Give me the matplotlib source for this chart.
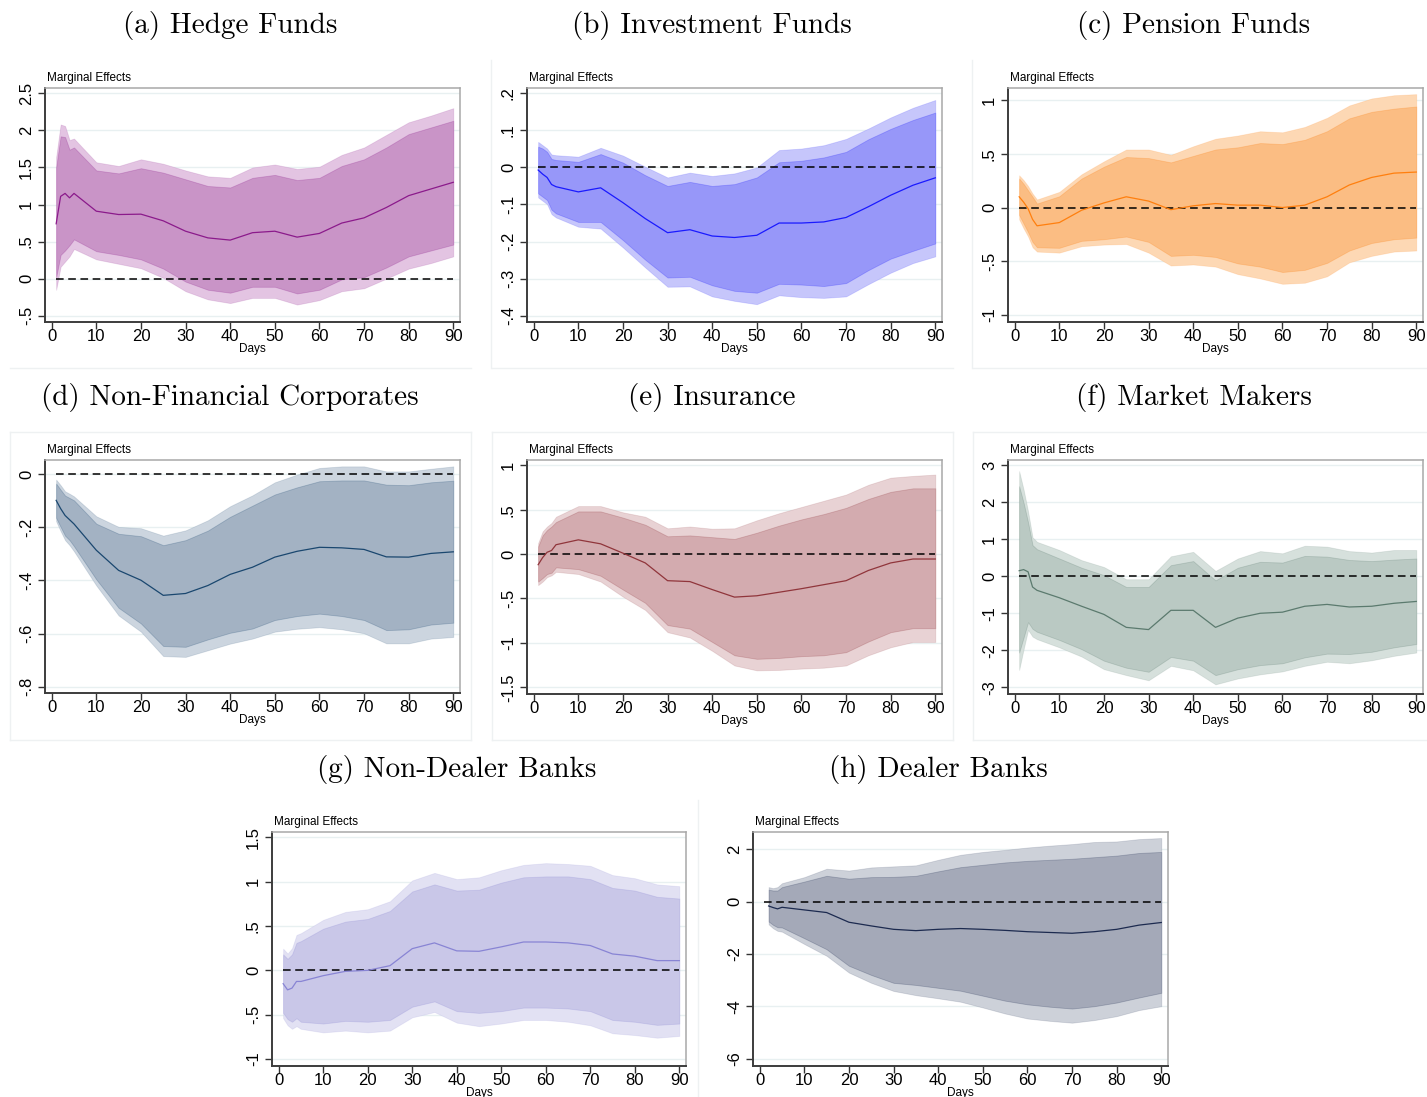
import matplotlib
matplotlib.use("Agg")
import matplotlib.pyplot as plt
from matplotlib.colors import to_rgba
import numpy as np

W, H = 1427, 1097
tick_font = "Liberation Sans"
title_font = "cmr10"

days = [1, 2, 3, 4, 5, 10, 15, 20, 25, 30, 35, 40, 45, 50, 55, 60, 65, 70, 75, 80, 85, 90]
days_h = [2, 3, 4, 5, 10, 15, 20, 25, 30, 35, 40, 45, 50, 55, 60, 65, 70, 75, 80, 85, 90]

# (a) Hedge Funds
mid_a = [0.74, 1.11, 1.15, 1.09, 1.15, 0.91, 0.865, 0.87, 0.78, 0.64, 0.55, 0.52, 0.62, 0.64, 0.56, 0.61, 0.75, 0.82, 0.96, 1.12, 1.21, 1.30]
hi90_a = [1.50, 1.92, 1.91, 1.74, 1.77, 1.46, 1.42, 1.49, 1.43, 1.34, 1.25, 1.23, 1.36, 1.40, 1.33, 1.36, 1.52, 1.61, 1.77, 1.95, 2.04, 2.13]
hi95_a = [1.64, 2.08, 2.06, 1.87, 1.89, 1.57, 1.52, 1.61, 1.55, 1.46, 1.38, 1.36, 1.50, 1.54, 1.48, 1.51, 1.67, 1.77, 1.94, 2.11, 2.20, 2.30]
lo90_a = [0.02, 0.32, 0.38, 0.45, 0.53, 0.37, 0.32, 0.26, 0.135, -0.04, -0.15, -0.19, -0.11, -0.11, -0.20, -0.15, -0.01, 0.02, 0.15, 0.30, 0.38, 0.46]
lo95_a = [-0.15, 0.16, 0.23, 0.30, 0.40, 0.26, 0.20, 0.14, 0.01, -0.17, -0.28, -0.33, -0.26, -0.26, -0.35, -0.29, -0.17, -0.13, 0.0, 0.135, 0.21, 0.30]

# (b) Investment Funds
mid_b = [-0.007, -0.018, -0.027, -0.046, -0.052, -0.066, -0.055, -0.095, -0.138, -0.176, -0.168, -0.185, -0.189, -0.183, -0.150, -0.150, -0.147, -0.135, -0.106, -0.075, -0.048, -0.028]
hi90_b = [0.056, 0.051, 0.042, 0.023, 0.020, 0.015, 0.036, 0.013, -0.021, -0.050, -0.039, -0.050, -0.045, -0.027, 0.014, 0.018, 0.027, 0.042, 0.076, 0.104, 0.128, 0.148]
hi95_b = [0.069, 0.060, 0.051, 0.035, 0.033, 0.029, 0.053, 0.032, 0.002, -0.027, -0.014, -0.023, -0.016, 0.0, 0.047, 0.051, 0.060, 0.077, 0.105, 0.135, 0.161, 0.182]
lo90_b = [-0.070, -0.079, -0.088, -0.114, -0.124, -0.147, -0.147, -0.196, -0.249, -0.297, -0.295, -0.318, -0.333, -0.338, -0.314, -0.316, -0.320, -0.312, -0.277, -0.246, -0.225, -0.205]
lo95_b = [-0.081, -0.090, -0.099, -0.126, -0.135, -0.160, -0.165, -0.216, -0.270, -0.322, -0.321, -0.348, -0.360, -0.369, -0.345, -0.350, -0.352, -0.348, -0.315, -0.284, -0.258, -0.240]

# (c) Pension Funds
mid_c = [0.10, 0.05, -0.01, -0.11, -0.17, -0.14, -0.025, 0.043, 0.10, 0.06, -0.02, 0.016, 0.037, 0.022, 0.022, 0.0, 0.022, 0.10, 0.21, 0.28, 0.32, 0.33]
hi90_c = [0.27, 0.22, 0.16, 0.10, 0.037, 0.105, 0.27, 0.38, 0.47, 0.46, 0.42, 0.48, 0.54, 0.56, 0.60, 0.59, 0.63, 0.71, 0.83, 0.89, 0.92, 0.94]
hi95_c = [0.30, 0.255, 0.20, 0.13, 0.075, 0.146, 0.31, 0.43, 0.54, 0.54, 0.49, 0.57, 0.64, 0.67, 0.71, 0.70, 0.75, 0.835, 0.95, 1.015, 1.045, 1.055]
lo90_c = [-0.07, -0.15, -0.23, -0.32, -0.37, -0.375, -0.31, -0.295, -0.27, -0.32, -0.45, -0.44, -0.46, -0.52, -0.55, -0.60, -0.58, -0.515, -0.40, -0.33, -0.295, -0.28]
lo95_c = [-0.11, -0.195, -0.27, -0.37, -0.41, -0.42, -0.36, -0.345, -0.34, -0.42, -0.54, -0.53, -0.55, -0.62, -0.66, -0.71, -0.70, -0.64, -0.51, -0.45, -0.41, -0.40]

# (d) Non-Financial Corporates
mid_d = [-0.098, -0.129, -0.155, -0.171, -0.187, -0.286, -0.362, -0.399, -0.456, -0.449, -0.419, -0.377, -0.350, -0.312, -0.290, -0.275, -0.277, -0.283, -0.311, -0.312, -0.298, -0.292]
hi90_d = [-0.035, -0.058, -0.080, -0.089, -0.098, -0.186, -0.224, -0.233, -0.267, -0.248, -0.212, -0.160, -0.118, -0.076, -0.049, -0.026, -0.023, -0.023, -0.039, -0.041, -0.030, -0.024]
hi95_d = [-0.020, -0.041, -0.064, -0.073, -0.083, -0.158, -0.198, -0.203, -0.231, -0.211, -0.173, -0.120, -0.079, -0.030, -0.001, 0.024, 0.030, 0.030, 0.011, 0.011, 0.021, 0.030]
lo90_d = [-0.164, -0.198, -0.231, -0.248, -0.271, -0.396, -0.503, -0.562, -0.647, -0.650, -0.622, -0.597, -0.581, -0.549, -0.534, -0.525, -0.534, -0.549, -0.587, -0.584, -0.566, -0.559]
lo95_d = [-0.177, -0.214, -0.248, -0.267, -0.290, -0.419, -0.532, -0.593, -0.685, -0.688, -0.663, -0.638, -0.619, -0.593, -0.582, -0.576, -0.584, -0.599, -0.637, -0.637, -0.619, -0.613]

# (e) Insurance
mid_e = [-0.12, -0.04, 0.02, 0.04, 0.105, 0.16, 0.115, 0.01, -0.10, -0.30, -0.31, -0.40, -0.485, -0.47, -0.43, -0.39, -0.345, -0.30, -0.185, -0.10, -0.056, -0.056]
hi90_e = [0.086, 0.21, 0.27, 0.31, 0.36, 0.48, 0.48, 0.41, 0.33, 0.20, 0.21, 0.19, 0.17, 0.24, 0.32, 0.39, 0.45, 0.52, 0.62, 0.70, 0.74, 0.74]
hi95_e = [0.124, 0.255, 0.31, 0.35, 0.42, 0.54, 0.54, 0.47, 0.42, 0.29, 0.31, 0.285, 0.29, 0.38, 0.46, 0.53, 0.60, 0.67, 0.78, 0.86, 0.88, 0.895]
lo90_e = [-0.31, -0.27, -0.225, -0.21, -0.15, -0.17, -0.245, -0.40, -0.55, -0.80, -0.84, -0.99, -1.14, -1.18, -1.17, -1.15, -1.14, -1.105, -0.985, -0.88, -0.835, -0.835]
lo95_e = [-0.35, -0.31, -0.26, -0.24, -0.20, -0.225, -0.31, -0.48, -0.63, -0.88, -0.94, -1.09, -1.255, -1.31, -1.305, -1.29, -1.28, -1.255, -1.14, -1.05, -0.99, -0.99]

# (f) Market Makers
mid_f = [0.15, 0.18, 0.12, -0.29, -0.38, -0.58, -0.81, -1.03, -1.38, -1.44, -0.92, -0.92, -1.38, -1.13, -1.00, -0.97, -0.81, -0.76, -0.83, -0.81, -0.73, -0.68]
hi90_f = [2.43, 1.98, 1.45, 0.84, 0.73, 0.48, 0.23, 0.03, -0.29, -0.29, 0.30, 0.41, -0.11, 0.23, 0.39, 0.37, 0.55, 0.53, 0.44, 0.41, 0.45, 0.48]
hi95_f = [2.84, 2.34, 1.75, 1.05, 0.93, 0.71, 0.435, 0.25, -0.08, -0.08, 0.54, 0.66, 0.145, 0.48, 0.68, 0.62, 0.825, 0.80, 0.68, 0.64, 0.71, 0.71]
lo90_f = [-2.06, -1.65, -1.24, -1.42, -1.50, -1.72, -1.97, -2.28, -2.47, -2.58, -2.18, -2.28, -2.67, -2.51, -2.40, -2.35, -2.19, -2.09, -2.10, -2.04, -1.92, -1.83]
lo95_f = [-2.53, -1.97, -1.45, -1.63, -1.70, -1.92, -2.17, -2.51, -2.67, -2.81, -2.42, -2.54, -2.92, -2.76, -2.65, -2.57, -2.42, -2.31, -2.35, -2.27, -2.15, -2.06]

# (g) Non-Dealer Banks
mid_g = [-0.15, -0.22, -0.20, -0.125, -0.125, -0.06, -0.011, 0.0, 0.053, 0.245, 0.31, 0.22, 0.215, 0.265, 0.32, 0.32, 0.31, 0.28, 0.185, 0.16, 0.11, 0.11]
hi90_g = [0.18, 0.13, 0.18, 0.31, 0.33, 0.47, 0.55, 0.58, 0.67, 0.89, 0.97, 0.90, 0.91, 0.99, 1.05, 1.06, 1.06, 1.03, 0.93, 0.90, 0.83, 0.81]
hi95_g = [0.245, 0.19, 0.25, 0.40, 0.42, 0.57, 0.66, 0.69, 0.78, 1.015, 1.10, 1.03, 1.05, 1.13, 1.19, 1.21, 1.20, 1.18, 1.075, 1.04, 0.97, 0.95]
lo90_g = [-0.48, -0.55, -0.58, -0.54, -0.58, -0.60, -0.57, -0.58, -0.56, -0.41, -0.35, -0.46, -0.48, -0.46, -0.42, -0.42, -0.43, -0.46, -0.56, -0.58, -0.615, -0.60]
lo95_g = [-0.54, -0.62, -0.66, -0.63, -0.66, -0.70, -0.68, -0.70, -0.68, -0.53, -0.47, -0.59, -0.63, -0.60, -0.56, -0.56, -0.58, -0.62, -0.71, -0.73, -0.76, -0.74]

# (h) Dealer Banks
mid_h = [-0.17, -0.23, -0.28, -0.22, -0.32, -0.42, -0.79, -0.93, -1.06, -1.11, -1.06, -1.03, -1.06, -1.10, -1.15, -1.18, -1.21, -1.15, -1.06, -0.90, -0.80]
hi90_h = [0.45, 0.42, 0.42, 0.55, 0.76, 0.98, 0.87, 0.93, 0.94, 0.98, 1.15, 1.31, 1.40, 1.49, 1.55, 1.59, 1.63, 1.69, 1.75, 1.85, 1.89]
hi95_h = [0.55, 0.51, 0.55, 0.70, 0.93, 1.25, 1.18, 1.30, 1.34, 1.38, 1.59, 1.78, 1.89, 1.97, 2.06, 2.13, 2.19, 2.27, 2.29, 2.38, 2.42]
lo90_h = [-0.76, -0.89, -0.98, -0.99, -1.40, -1.82, -2.45, -2.80, -3.10, -3.18, -3.29, -3.40, -3.59, -3.78, -3.92, -4.01, -4.08, -3.99, -3.85, -3.66, -3.48]
lo95_h = [-0.87, -1.02, -1.12, -1.15, -1.62, -2.07, -2.71, -3.10, -3.41, -3.57, -3.69, -3.82, -4.04, -4.27, -4.46, -4.55, -4.62, -4.52, -4.37, -4.14, -3.99]

titles = ["(a) Hedge Funds", "(b) Investment Funds", "(c) Pension Funds",
          "(d) Non-Financial Corporates", "(e) Insurance", "(f) Market Makers",
          "(g) Non-Dealer Banks", "(h) Dealer Banks"]

yticks_a = [-0.5, 0, 0.5, 1, 1.5, 2, 2.5]
yticks_b = [-0.4, -0.3, -0.2, -0.1, 0, 0.1, 0.2]
yticks_c = [-1, -0.5, 0, 0.5, 1]
yticks_d = [-0.8, -0.6, -0.4, -0.2, 0]
yticks_e = [-1.5, -1, -0.5, 0, 0.5, 1]
yticks_f = [-3, -2, -1, 0, 1, 2, 3]
yticks_g = [-1, -0.5, 0, 0.5, 1, 1.5]
yticks_h = [-6, -4, -2, 0, 2]
xticks = [0, 10, 20, 30, 40, 50, 60, 70, 80, 90]

# colours: line, inner band, outer band
cols = {
    "a": ("#8b1a8b", "#c994c7", "#e3c4e2"),
    "b": ("#1a1aff", "#9797f9", "#c6c6fb"),
    "c": ("#ff7f0e", "#fbbd83", "#fdd8b4"),
    "d": ("#1a476f", "#a3b2c3", "#ccd5df"),
    "e": ("#90353b", "#d3abaf", "#e8d2d4"),
    "f": ("#5b7a6e", "#bac9c3", "#d6e0dc"),
    "g": ("#8884d4", "#c9c7e8", "#e2e1f3"),
    "h": ("#1c2a4f", "#a4a9b8", "#cdd1d9"),
}


def stata_fmt(v):
    s = ("%g" % v)
    if s.startswith("0."):
        s = s[1:]
    elif s.startswith("-0."):
        s = "-" + s[2:]
    return s


fig = plt.figure(figsize=(W / 100, H / 100), dpi=100)

# faint graph-region borders (Stata)
faint = "#eef1f2"
border_lines = [
    ((10, 368), (471, 368)), ((492, 368), (953, 368)), ((973, 368), (1427, 368)),
    ((491, 60), (491, 368)), ((972, 60), (972, 368)),
    ((10, 432), (471, 432)), ((492, 432), (953, 432)), ((973, 432), (1427, 432)),
    ((10, 740), (471, 740)), ((492, 740), (953, 740)), ((973, 740), (1427, 740)),
    ((10, 432), (10, 740)), ((471, 432), (471, 740)), ((492, 432), (492, 740)),
    ((953, 432), (953, 740)), ((973, 432), (973, 740)),
    ((698, 800), (698, 1097)),
]
for (x0, y0), (x1, y1) in border_lines:
    fig.add_artist(plt.Line2D([x0 / W, x1 / W], [1 - y0 / H, 1 - y1 / H],
                              transform=fig.transFigure, color=faint, linewidth=1.0))

panels = [
    ("a", (45, 88, 460, 322), (-0.585, 2.572), yticks_a, days, mid_a, lo90_a, hi90_a, lo95_a, hi95_a, 230, 25),
    ("b", (527, 88, 942, 322), (-0.417, 0.2143), yticks_b, days, mid_b, lo90_b, hi90_b, lo95_b, hi95_b, 712, 25),
    ("c", (1008, 88, 1423, 322), (-1.065, 1.112), yticks_c, days, mid_c, lo90_c, hi90_c, lo95_c, hi95_c, 1194, 25),
    ("d", (45, 460, 460, 693), (-0.824, 0.054), yticks_d, days, mid_d, lo90_d, hi90_d, lo95_d, hi95_d, 230, 397),
    ("e", (527, 460, 942, 694), (-1.576, 1.059), yticks_e, days, mid_e, lo90_e, hi90_e, lo95_e, hi95_e, 712, 397),
    ("f", (1008, 460, 1423, 694), (-3.18, 3.14), yticks_f, days, mid_f, lo90_f, hi90_f, lo95_f, hi95_f, 1194, 397),
    ("g", (272, 832, 686, 1066), (-1.079, 1.561), yticks_g, days, mid_g, lo90_g, hi90_g, lo95_g, hi95_g, 457, 769),
    ("h", (753, 832, 1168, 1066), (-6.27, 2.65), yticks_h, days_h, mid_h, lo90_h, hi90_h, lo95_h, hi95_h, 938, 769),
]

for i, (key, box, ylim, yt, x, mid, lo90, hi90, lo95, hi95, tx, ty) in enumerate(panels):
    l, t, r, b = box
    ax = fig.add_axes([l / W, 1 - b / H, (r - l) / W, (b - t) / H])
    line_c, inner_c, outer_c = cols[key]

    for v in yt:
        ax.axhline(v, color="#e8f0f1", linewidth=1.0, zorder=0)
    ax.fill_between(x, lo95, hi95, facecolor=outer_c, edgecolor=to_rgba(line_c, 0.15),
                    linewidth=0.6, zorder=1)
    ax.fill_between(x, lo90, hi90, facecolor=inner_c, edgecolor=to_rgba(line_c, 0.25),
                    linewidth=0.6, zorder=2)
    ax.plot([1, 90], [0, 0], color="black", linewidth=1.1, dashes=(5, 3), zorder=3)
    ax.plot(x, mid, color=line_c, linewidth=0.9, zorder=4)

    ax.set_xlim(-1.5, 91.5)
    ax.set_ylim(*ylim)
    ax.set_xticks(xticks)
    ax.set_yticks(yt)
    ax.set_yticklabels([stata_fmt(v) for v in yt], rotation=90, va="center",
                       fontfamily=tick_font, fontsize=12)
    ax.set_xticklabels([str(v) for v in xticks], fontfamily=tick_font, fontsize=12)
    ax.tick_params(axis="both", direction="out", length=5, width=1.0, color="#333333")
    ax.tick_params(axis="y", pad=3)
    ax.tick_params(axis="x", pad=0)
    for s in ["left", "bottom"]:
        ax.spines[s].set_color("#3c3c3c")
        ax.spines[s].set_linewidth(1.4)
    for s in ["top", "right"]:
        ax.spines[s].set_color("#a8a8a8")
        ax.spines[s].set_linewidth(1.1)

    fig.text((l + 2) / W, 1 - (t - 10) / H, "Marginal Effects", fontfamily=tick_font,
             fontsize=8.5, ha="left", va="center")
    fig.text((l + r) / 2 / W, 1 - (b + 27) / H, "Days", fontfamily=tick_font,
             fontsize=8.5, ha="center", va="center")
    fig.text(tx / W, 1 - ty / H, titles[i], fontfamily=title_font, fontsize=21,
             ha="center", va="center")

fig.savefig("out.png", dpi=100)
